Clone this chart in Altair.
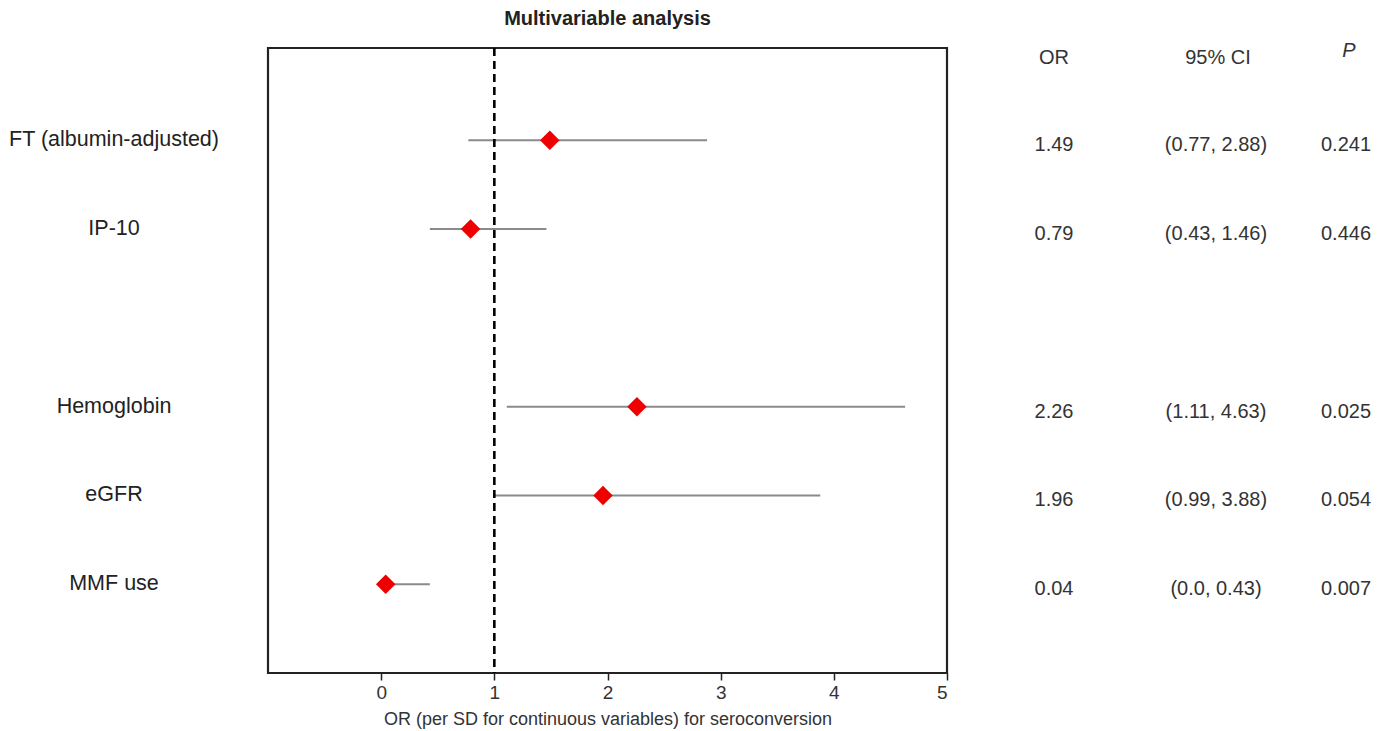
import altair as alt
import pandas as pd

labels = ["FT (albumin-adjusted)", "IP-10", "Hemoglobin", "eGFR", "MMF use"]
rows = [1, 2, 4, 5, 6]
or_vals = [1.49, 0.79, 2.26, 1.96, 0.04]
ci_low = [0.77, 0.43, 1.11, 0.99, 0.0]
ci_high = [2.88, 1.46, 4.63, 3.88, 0.43]
or_text = ["1.49", "0.79", "2.26", "1.96", "0.04"]
ci_text = ["(0.77, 2.88)", "(0.43, 1.46)", "(1.11, 4.63)", "(0.99, 3.88)", "(0.0, 0.43)"]
p_text = ["0.241", "0.446", "0.025", "0.054", "0.007"]
x_ticks = [0, 1, 2, 3, 4, 5]
ref_value = [1]

df = pd.DataFrame({
    "label": labels, "row": rows, "or": or_vals, "lo": ci_low, "hi": ci_high,
    "or_t": or_text, "ci_t": ci_text, "p_t": p_text,
})
hdr_or = pd.DataFrame({"row": [0.07], "t": ["OR"]})
hdr_ci = pd.DataFrame({"row": [0.07], "t": ["95% CI"]})
hdr_p = pd.DataFrame({"row": [-0.01], "t": ["P"]})
ref = pd.DataFrame({"x": ref_value})

FONT = "Liberation Sans"
W, H = 679, 625

xs = alt.Scale(domain=[-1, 5], nice=False, zero=False)
ys = alt.Scale(domain=[-0.04, 7.0], reverse=True, nice=False, zero=False)

xaxis = alt.Axis(values=x_ticks, format="d", grid=False, domain=False, ticks=True, tickSize=7,
                 tickColor="#222", tickWidth=1.5, labelFontSize=19, labelColor="#333",
                 labelFont=FONT, titleFont=FONT, titleFontSize=18, titleColor="#333",
                 titleFontWeight="normal", titlePadding=8, labelPadding=3)

base = alt.Chart(df)

ci = base.mark_rule(color="#8a8a8a", strokeWidth=2).encode(
    x=alt.X("lo:Q", scale=xs, axis=xaxis, title="OR (per SD for continuous variables) for seroconversion"),
    x2="hi:Q",
    y=alt.Y("row:Q", scale=ys, axis=None),
)

refline = alt.Chart(ref).mark_rule(color="black", strokeWidth=2.6, strokeDash=[8, 5]).encode(
    x=alt.X("x:Q", scale=xs)
)

pts = base.mark_point(shape="diamond", filled=True, color="#ee0000", size=380, opacity=1).encode(
    x=alt.X("or:Q", scale=xs),
    y=alt.Y("row:Q", scale=ys),
)

lab = base.mark_text(font=FONT, fontSize=21.5, color="#222", align="center", baseline="middle").encode(
    x=alt.value(-154), y=alt.Y("row:Q", scale=ys), text="label:N"
)

def col_text(field, xpix):
    return base.mark_text(font=FONT, fontSize=20, color="#333", align="center", baseline="middle", dy=5).encode(
        x=alt.value(xpix), y=alt.Y("row:Q", scale=ys), text=f"{field}:N"
    )

t_or = col_text("or_t", 786)
t_ci = col_text("ci_t", 948)
t_p = col_text("p_t", 1078)

def hdr_text(d, xpix, **kw):
    return alt.Chart(d).mark_text(font=FONT, fontSize=20, color="#333", align="center", baseline="middle", **kw).encode(
        x=alt.value(xpix), y=alt.Y("row:Q", scale=ys), text="t:N")

h_or = hdr_text(hdr_or, 786)
h_ci = hdr_text(hdr_ci, 950)
h_p = hdr_text(hdr_p, 1081, fontStyle="italic")

chart = alt.layer(ci, refline, pts, lab, t_or, t_ci, t_p, h_or, h_ci, h_p).properties(
    width=W, height=H,
    title=alt.TitleParams("Multivariable analysis", font=FONT, fontSize=20, fontWeight="bold",
                          color="#222", anchor="middle", frame="group", offset=12),
    padding={"left": 8, "top": 8, "right": 5, "bottom": 5},
).configure(background="white").configure_view(stroke="#222", strokeWidth=2.2)

chart.save("out.html", embed_options={"renderer": "svg", "actions": False})
